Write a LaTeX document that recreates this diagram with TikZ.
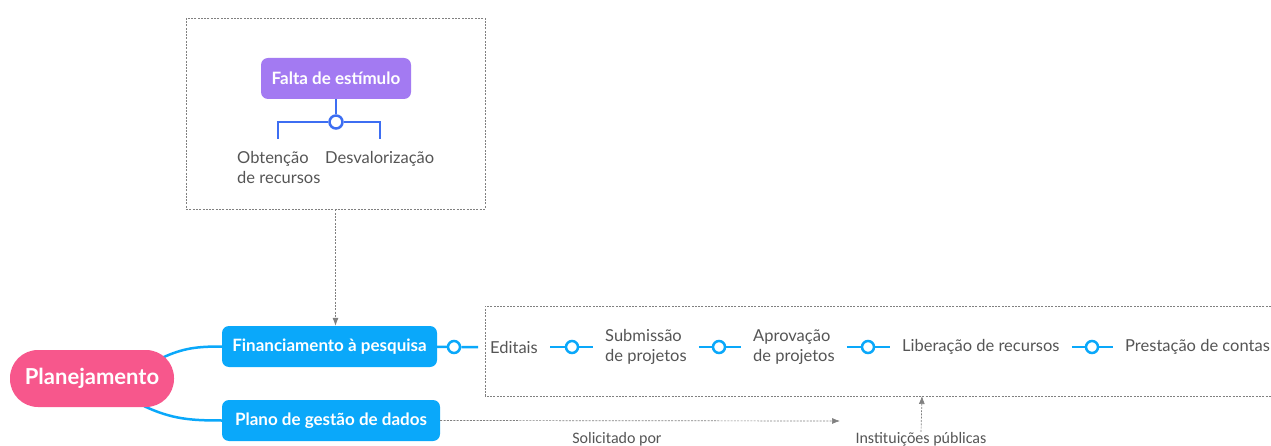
\documentclass[tikz,border=0pt]{standalone}
\usepackage{fontspec}
\setmainfont{Lato}
\newfontfamily\capfont{Carlito}
\usetikzlibrary{arrows.meta,backgrounds}

\definecolor{mmpink}{HTML}{F7578C}
\definecolor{mmblue}{HTML}{0AA8FA}
\definecolor{mmpurple}{HTML}{A37AF2}
\definecolor{mmroyal}{HTML}{3D6EF2}
\definecolor{mmtext}{HTML}{555555}
\definecolor{mmgray}{HTML}{808080}

\tikzset{
	root/.style={fill=mmpink,text=white,rounded corners=28pt,minimum width=164pt,minimum height=57pt,font=\bfseries\fontsize{22}{26}\selectfont},
	topic/.style={fill=mmblue,text=white,rounded corners=7pt,minimum height=41pt,font=\bfseries\fontsize{17}{20}\selectfont},
	cause/.style={fill=mmpurple,text=white,rounded corners=7pt,minimum height=41pt,minimum width=150pt,font=\bfseries\fontsize{17}{20}\selectfont},
	item/.style={text=mmtext,align=left,inner xsep=12pt,inner ysep=0pt,font=\fontsize{16.5}{20}\selectfont},
	hub/.style={circle,draw=mmblue,fill=white,line width=2.5pt,minimum size=12pt,inner sep=0pt},
	link/.style={mmblue,line width=2.5pt},
	brace/.style={mmroyal,line width=2.5pt},
	frame/.style={mmgray,line width=.7pt,dash pattern=on 2pt off 1.3pt},
	note/.style={mmgray,line width=.7pt,dash pattern=on 2pt off 1.3pt,-{Latex[length=8pt,width=6pt]}},
	remark/.style={text=mmtext,inner sep=0pt,font=\capfont\fontsize{16}{18}\selectfont}
}

\begin{document}
\begin{tikzpicture}[x=1pt,y=1pt]
	\useasboundingbox (0,0) rectangle (1271,-446);

	% mind map
	\node[root] (plan) at (92,-378.5) {Planejamento};
	\node[topic,minimum width=215pt] (fin) at (329.5,-346.5) {Financiamento à pesquisa};
	\node[topic,minimum width=218pt] (pgd) at (331,-420.5) {Plano de gestão de dados};
	\begin{scope}[on background layer]
	\draw[link] ([xshift=-12pt,yshift=-8pt]plan.north east) to[out=25,in=180] (fin.west);
	\draw[link] ([xshift=-30pt,yshift=1pt]plan.south east) to[out=-25,in=180] (pgd.west);
	\end{scope}

	% cause box
	\node[frame,draw,minimum width=299pt,minimum height=191pt] (why) at (335.5,-113.5) {};
	\node[cause] (falta) at (336,-78.5) {Falta de estímulo};
	\node[hub,draw=mmroyal,minimum size=13pt] (fork) at (336,-122) {};
	\coordinate (lfoot) at (278,-139);
	\coordinate (rfoot) at (380,-139);
	\draw[brace] (falta) -- (fork);
	\draw[brace] (fork) -| (lfoot);
	\draw[brace] (fork) -| (rfoot);
	\node[item,inner xsep=0pt,anchor=north west] (obt) at (237,-151) {Obtenção\\de recursos};
	\node[item,inner xsep=0pt,anchor=north west] (desv) at (325,-151) {Desvalorização};
	\draw[note] (why.south) -- (why.south |- fin.north);

	% funding steps
	\draw[frame] (1271,-306) -- (485,-306) -- (485,-396) -- (1271,-396);
	\coordinate (bottom) at (922,-396);
	\node[hub] (h0) at (454,-347) {};
	\node[item,anchor=west] (edit) at (478,-347) {Editais};
	\node[hub] (h1) at (572,-347) {};
	\node[item,anchor=west] (subm) at (593,-347) {Submissão\\de projetos};
	\node[hub] (h2) at (719,-347) {};
	\node[item,anchor=west] (aprov) at (741,-347) {Aprovação\\de projetos};
	\node[hub] (h3) at (868,-347) {};
	\node[item,anchor=west] (lib) at (890,-347) {Liberação de recursos};
	\node[hub] (h4) at (1092,-347) {};
	\node[item,anchor=west] (prest) at (1113,-347) {Prestação de contas};
	\begin{scope}[on background layer]
	\draw[link] (fin) -- (h0) -- (edit);
	\draw[link] (edit) -- (h1) -- (subm);
	\draw[link] (subm) -- (h2) -- (aprov);
	\draw[link] (aprov) -- (h3) -- (lib);
	\draw[link] (lib) -- (h4) -- (prest);
	\end{scope}

	% requested by
	\coordinate (req) at (840,-421);
	\draw[note] (pgd.east) -- (req);
	\node[remark] (solic) at (617,-439) {Solicitado por};
	\node[remark] (inst) at (921,-439) {Instituições públicas};
	\draw[note] (inst.north) -- (bottom);
\end{tikzpicture}
\end{document}
